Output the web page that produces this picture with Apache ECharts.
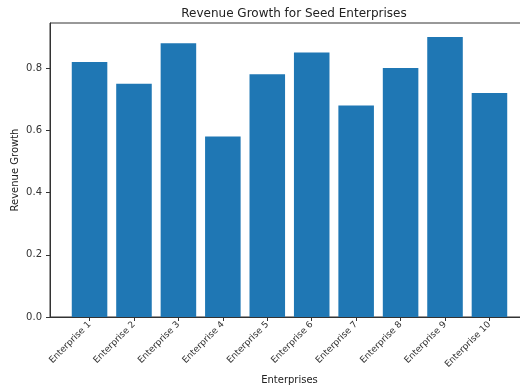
<!DOCTYPE html>
<html><head><meta charset="utf-8">
<script src="https://cdn.jsdelivr.net/npm/echarts@6/dist/echarts.min.js"></script>
<style>html,body{margin:0;padding:0;background:#fff}#c{width:520px;height:389px}</style>
</head><body><div id="c"></div>
<script>
const categories = ["Enterprise 1","Enterprise 2","Enterprise 3","Enterprise 4","Enterprise 5","Enterprise 6","Enterprise 7","Enterprise 8","Enterprise 9","Enterprise 10"];
const revenueGrowth = [0.82, 0.75, 0.88, 0.58, 0.78, 0.85, 0.68, 0.80, 0.90, 0.72];
const yTicks = [0, 0.2, 0.4, 0.6, 0.8];

const chart = echarts.init(document.getElementById('c'));
const gridLeft = 50, gridRight = -9;
const xMin = -0.89, xMax = categories.length - 1 + 0.89;
const plotW = 520 - gridLeft - gridRight;
const barW = plotW / (xMax - xMin) * 0.8;
const font = 'DejaVu Sans';
chart.setOption({
  animation: false,
  title: { text: 'Revenue Growth for Seed Enterprises', left: 289, top: 3, textAlign: 'center',
    textStyle: { fontFamily: font, fontSize: 12, fontWeight: 'normal', color: '#222' } },
  grid: { left: gridLeft, right: gridRight, top: 23, bottom: 72, outerBoundsMode: 'none', containLabel: false,
    show: true, borderColor: '#333', borderWidth: 1, backgroundColor: 'transparent' },
  xAxis: {
    type: 'value', min: xMin, max: xMax,
    name: 'Enterprises', nameLocation: 'middle', nameGap: 58, nameMoveOverlap: false,
    nameTextStyle: { fontFamily: font, fontSize: 10, color: '#222' },
    splitLine: { show: false },
    axisLine: { show: true, onZero: false, lineStyle: { color: '#333' } },
    axisTick: { show: true, customValues: categories.map((c, i) => i), length: 4, lineStyle: { color: '#333' } },
    axisLabel: { customValues: categories.map((c, i) => i), rotate: 45, fontFamily: font, fontSize: 9, color: '#333',
      formatter: v => categories[Math.round(v)] || '' , margin: 6}
  },
  yAxis: {
    type: 'value', min: 0, max: 0.945,
    name: 'Revenue Growth', nameLocation: 'middle', nameGap: 30, nameRotate: 90, nameMoveOverlap: false,
    nameTextStyle: { fontFamily: font, fontSize: 10, color: '#222' },
    splitLine: { show: false },
    axisLine: { show: true, onZero: false, lineStyle: { color: '#333' } },
    axisTick: { show: true, customValues: yTicks, length: 4, lineStyle: { color: '#333' } },
    axisLabel: { customValues: yTicks, fontFamily: font, fontSize: 10, color: '#333', formatter: v => v.toFixed(1) }
  },
  series: [{
    type: 'bar', barWidth: barW,
    itemStyle: { color: '#1f77b4' },
    data: revenueGrowth.map((v, i) => [i, v])
  }]
});
</script></body></html>
